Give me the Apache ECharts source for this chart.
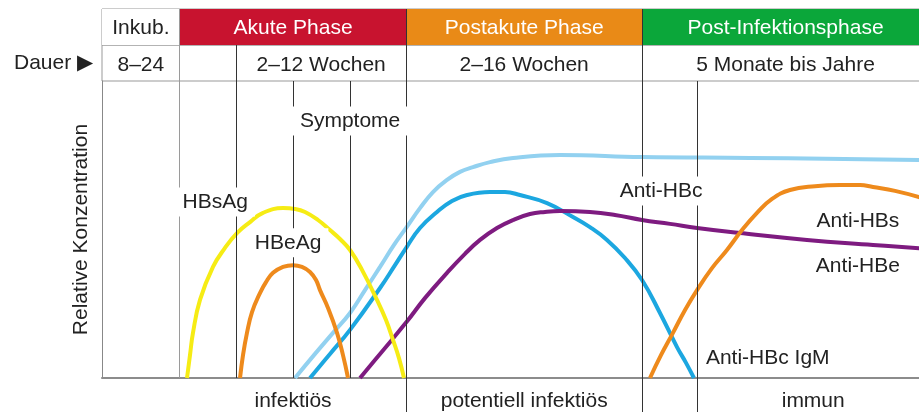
<!DOCTYPE html>
<html>
<head>
<meta charset="utf-8">
<script src="https://cdn.jsdelivr.net/npm/echarts@6/dist/echarts.min.js"></script>
<style>
  html, body { margin: 0; padding: 0; background: #fff; }
  #chart { width: 919px; height: 412px; }
</style>
</head>
<body>
<div id="chart"></div>
<script>
// time axis is relative (0 = infection, 100 = right edge), concentration 0..100
var phaseNames = ['Inkub.', 'Akute Phase', 'Postakute Phase', 'Post-Infektionsphase'];
var phaseBounds = [0, 9.4, 36.8, 65.3, 100];
var phaseColors = ['#ffffff', '#c8132f', '#e98a17', '#0ba73a'];

var durationLabels = ['8–24', '2–12 Wochen', '2–16 Wochen', '5 Monate bis Jahre'];
var durationBounds = [[0, 9.4], [16.2, 36.8], [36.8, 65.3], [65.3, 100]];

var zoneLabels = ['infektiös', 'potentiell infektiös', 'immun'];
var zoneBounds = [[9.4, 36.8], [36.8, 65.3], [72.0, 100]];

// vertical guide lines per row
var headerLines = [9.4, 36.8, 65.3];
var durationLines = [9.4, 16.2, 36.8, 65.3];
var plotLines = [9.4, 16.2, 23.1, 30.0, 36.8, 65.3, 72.0];
var zoneLines = [36.8, 65.3, 72.0];

// curves
var hbsAg = [[10.28, 0], [10.64, 7.7], [11.0, 15.2], [11.85, 26.3], [13.42, 37.4], [14.87, 43.8], [16.32, 48.8], [17.9, 52.5], [19.47, 55.6], [21.89, 57.2], [23.34, 56.9], [24.55, 55.9], [26.12, 53.2], [27.57, 49.8], [28.78, 46.8], [29.99, 43.1], [31.44, 36.4], [33.25, 26.3], [34.34, 19.5], [35.19, 12.8], [35.91, 6.7], [36.52, 0]];
var hbeAg = [[16.69, 0], [17.05, 7.7], [17.53, 15.2], [18.14, 22.2], [19.1, 28.6], [19.83, 32.3], [20.68, 35.4], [21.89, 37.4], [23.1, 38.0], [24.18, 37.4], [25.15, 35.7], [25.88, 33.0], [26.36, 29.6], [27.33, 23.6], [28.42, 15.2], [29.14, 7.7], [29.75, 0]];
var antiHBc = [[23.34, 0], [25.63, 7.7], [27.93, 15.2], [29.99, 21.9], [31.8, 29.6], [33.62, 37.4], [35.31, 44.8], [36.84, 50.8], [38.45, 57.2], [40.02, 62.6], [41.72, 66.7], [43.29, 69.4], [44.86, 71.0], [46.92, 72.7], [49.7, 74.1], [55.38, 75.1], [65.3, 74.4], [78.36, 74.1], [100, 73.4]];
var antiHBcIgM = [[25.15, 0], [27.57, 8.1], [29.99, 16.2], [33.62, 30.3], [35.43, 38.0], [36.84, 44.1], [38.45, 50.5], [40.51, 55.9], [42.32, 59.6], [44.14, 61.6], [46.92, 62.6], [48.73, 62.6], [50.54, 61.6], [53.81, 58.9], [56.95, 54.2], [59.0, 50.8], [61.06, 46.5], [63.24, 40.4], [65.3, 33.0], [67.47, 21.9], [69.53, 10.4], [70.62, 5.1], [71.58, 0]];
var antiHBe = [[31.2, 0], [33.62, 8.1], [36.84, 18.9], [39.05, 26.9], [41.72, 35.4], [43.89, 41.8], [45.71, 46.5], [47.76, 50.5], [49.7, 53.2], [51.75, 55.2], [53.57, 55.9], [55.38, 56.2], [59.0, 55.9], [62.03, 54.9], [65.3, 53.2], [68.68, 51.9], [71.95, 50.5], [77.15, 48.8], [85.25, 46.5], [93.23, 44.8], [100, 43.4]];
var antiHBs = [[66.26, 0], [67.59, 7.7], [69.04, 15.2], [70.5, 22.9], [71.95, 29.6], [73.76, 37.0], [75.57, 43.1], [77.39, 49.8], [79.2, 55.6], [81.02, 60.3], [83.19, 63.3], [86.22, 64.6], [89.24, 65.0], [91.66, 65.0], [93.23, 64.3], [95.89, 63.0], [98.79, 60.9], [100, 59.6]];

var markerNames = ['HBsAg', 'HBeAg', 'Symptome', 'Anti-HBc', 'Anti-HBs', 'Anti-HBe', 'Anti-HBc IgM'];
var markerAt = [[13.7, 59.3], [22.5, 45.5], [30.0, 86.5], [67.6, 63.0], [91.4, 52.9], [91.4, 37.7], [80.5, 6.7]];

var fontSize = 21;
var ink = '#222';

function guideLines(values) {
  return {
    silent: true,
    symbol: 'none',
    label: { show: false },
    lineStyle: { type: 'solid', width: 1, color: '#333' },
    data: values.map(function (v) {
      return { xAxis: v, lineStyle: { color: v === 9.4 ? '#9a9a9a' : '#333' } };
    })
  };
}

var myChart = echarts.init(document.getElementById('chart'));

// the figure runs a little past the right edge of the window
var grids = [
  { left: 102, width: 827, top: 9, height: 36, show: true, borderColor: '#999', borderWidth: 1 },
  { left: 102, width: 827, top: 45, height: 36, show: true, borderColor: '#999', borderWidth: 1 },
  { left: 102, width: 827, top: 81, height: 297 },
  { left: 102, width: 827, top: 378, height: 34 }
];
grids.forEach(function (g) { g.outerBoundsMode = 'none'; g.containLabel = false; });

var xAxes = grids.map(function (g, i) {
  return {
    type: 'value', gridIndex: i, min: 0, max: 100,
    show: i === 2,
    axisLine: { show: true, onZero: false, lineStyle: { color: '#8c8c8c', width: 2 } },
    axisTick: { show: false }, axisLabel: { show: false }, splitLine: { show: false }
  };
});

var yAxes = grids.map(function (g, i) {
  return {
    type: 'value', gridIndex: i, min: 0, max: i === 2 ? 100 : 1,
    show: i === 1 || i === 2,
    axisLine: { show: i === 2, lineStyle: { color: '#888', width: 1 } },
    axisTick: { show: false }, axisLabel: { show: false }, splitLine: { show: false }
  };
});
yAxes[1].name = 'Dauer ▶';
yAxes[1].nameLocation = 'middle';
yAxes[1].nameRotate = 0;
yAxes[1].nameGap = 9;
yAxes[1].nameTextStyle = { fontSize: fontSize, color: ink, padding: [4, 0, 0, 0] };
yAxes[2].name = 'Relative Konzentration';
yAxes[2].nameLocation = 'middle';
yAxes[2].nameGap = 10;
yAxes[2].nameTextStyle = { fontSize: fontSize, color: ink };

function curve(name, data, color) {
  return {
    name: name, type: 'line', xAxisIndex: 2, yAxisIndex: 2,
    data: data, smooth: 0.45, showSymbol: false, silent: true,
    lineStyle: { width: 4, color: color }, itemStyle: { color: color }
  };
}

myChart.setOption({
  animation: false,
  backgroundColor: '#fff',
  textStyle: { fontFamily: 'Liberation Sans, Arial, sans-serif' },
  grid: grids,
  xAxis: xAxes,
  yAxis: yAxes,
  series: [
    {
      // Phasen
      type: 'line', xAxisIndex: 0, yAxisIndex: 0, data: [], z: 3,
      markArea: {
        silent: true,
        label: { show: true, position: 'inside', fontSize: fontSize, offset: [0, 1] },
        data: phaseNames.map(function (n, i) {
          return [
            { name: n, xAxis: phaseBounds[i], itemStyle: { color: phaseColors[i], opacity: 1 },
              label: { color: i === 0 ? ink : '#fff' } },
            { xAxis: phaseBounds[i + 1] }
          ];
        })
      },
      markLine: guideLines(headerLines)
    },
    {
      // Dauer
      type: 'line', xAxisIndex: 1, yAxisIndex: 1, data: [], z: 3,
      markArea: {
        silent: true,
        itemStyle: { color: 'rgba(0,0,0,0)' },
        label: { show: true, position: 'inside', fontSize: fontSize, color: ink, offset: [0, 2] },
        data: durationLabels.map(function (n, i) {
          return [{ name: n, xAxis: durationBounds[i][0] }, { xAxis: durationBounds[i][1] }];
        })
      },
      markLine: guideLines(durationLines)
    },
    curve('Anti-HBc', antiHBc, '#92d1f0'),
    curve('Anti-HBc IgM', antiHBcIgM, '#1ca7e0'),
    curve('Anti-HBe', antiHBe, '#7e1b80'),
    curve('Anti-HBs', antiHBs, '#ee8a1c'),
    curve('HBeAg', hbeAg, '#ee8a1c'),
    curve('HBsAg', hbsAg, '#f6ec14'),
    {
      type: 'line', xAxisIndex: 2, yAxisIndex: 2, data: [], z: 5,
      markLine: guideLines(plotLines)
    },
    {
      type: 'line', xAxisIndex: 2, yAxisIndex: 2, data: [], z: 10,
      markPoint: {
        silent: true,
        symbol: 'rect', symbolSize: 1,
        itemStyle: { color: 'rgba(0,0,0,0)' },
        label: {
          show: true, position: 'inside', formatter: '{b}', fontSize: fontSize, color: ink,
          backgroundColor: '#fff', padding: [4, 7]
        },
        data: markerNames.map(function (n, i) {
          return { name: n, coord: markerAt[i] };
        })
      }
    },
    {
      // Infektiosität
      type: 'line', xAxisIndex: 3, yAxisIndex: 3, data: [], z: 3,
      markArea: {
        silent: true,
        itemStyle: { color: 'rgba(0,0,0,0)' },
        label: { show: true, position: 'inside', fontSize: fontSize, color: ink, offset: [0, 6] },
        data: zoneLabels.map(function (n, i) {
          return [{ name: n, xAxis: zoneBounds[i][0] }, { xAxis: zoneBounds[i][1] }];
        })
      },
      markLine: guideLines(zoneLines)
    }
  ]
});
</script>
</body>
</html>
